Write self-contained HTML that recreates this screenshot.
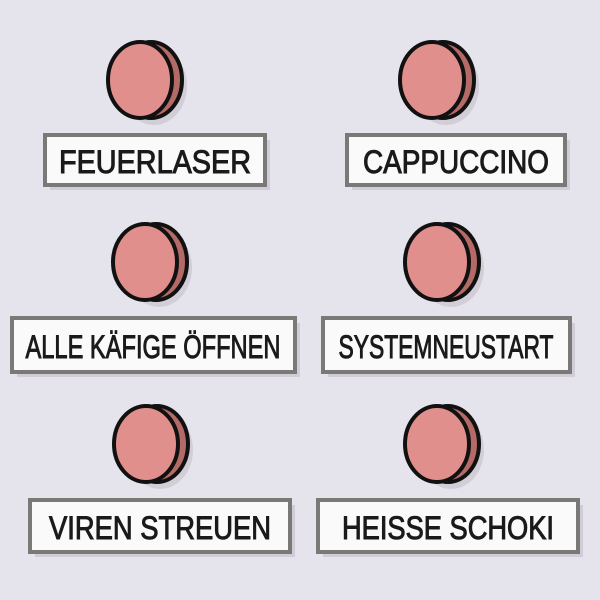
<!DOCTYPE html>
<html><head><meta charset="utf-8"><style>
html,body{margin:0;padding:0;background:#e5e3ec;}
svg{display:block}
text{font-family:"Liberation Sans",sans-serif;font-size:32px;fill:#1a1a1a;stroke:#1a1a1a;stroke-width:1;}
</style></head><body>
<svg width="600" height="600" viewBox="0 0 600 600">
<defs>
<g id="btn">
  <ellipse cx="14" cy="6" rx="33" ry="39" fill="#cfcbd6" opacity="0.9"/>
  <ellipse cx="11" cy="0" rx="31" ry="38" fill="#b46a66" stroke="#111" stroke-width="4"/>
  <ellipse cx="0" cy="0" rx="32" ry="38" fill="#e08f8c" stroke="#111" stroke-width="4"/>
</g>
</defs>
<rect width="600" height="600" fill="#e5e3ec"/>
<use href="#btn" x="140" y="80"/>
<use href="#btn" x="432" y="80"/>
<use href="#btn" x="145" y="262"/>
<use href="#btn" x="437" y="262"/>
<use href="#btn" x="146" y="444"/>
<use href="#btn" x="437" y="444"/>
<g fill="#d0cdd6"><rect x="50" y="140" width="220" height="50"/><rect x="352" y="140" width="218" height="50"/><rect x="17" y="323" width="283" height="54"/><rect x="328" y="323" width="247" height="54"/><rect x="35" y="505" width="260" height="52"/><rect x="323" y="505" width="260" height="52"/></g>
<g fill="#fbfafb" stroke="#7b7878" stroke-width="4">
<rect x="45" y="135" width="220" height="50"/>
<rect x="347" y="135" width="218" height="50"/>
<rect x="12" y="318" width="283" height="54"/>
<rect x="323" y="318" width="247" height="54"/>
<rect x="30" y="500" width="260" height="52"/>
<rect x="318" y="500" width="260" height="52"/>
</g>
<text x="155" y="173" text-anchor="middle" textLength="192" lengthAdjust="spacingAndGlyphs">FEUERLASER</text>
<text x="456" y="173" text-anchor="middle" textLength="186" lengthAdjust="spacingAndGlyphs">CAPPUCCINO</text>
<text x="153" y="358" text-anchor="middle" textLength="255" lengthAdjust="spacingAndGlyphs">ALLE KÄFIGE ÖFFNEN</text>
<text x="446" y="358" text-anchor="middle" textLength="215" lengthAdjust="spacingAndGlyphs">SYSTEMNEUSTART</text>
<text x="160" y="539" text-anchor="middle" textLength="222" lengthAdjust="spacingAndGlyphs">VIREN STREUEN</text>
<text x="448" y="539" text-anchor="middle" textLength="212" lengthAdjust="spacingAndGlyphs">HEISSE SCHOKI</text>
</svg>
</body></html>
